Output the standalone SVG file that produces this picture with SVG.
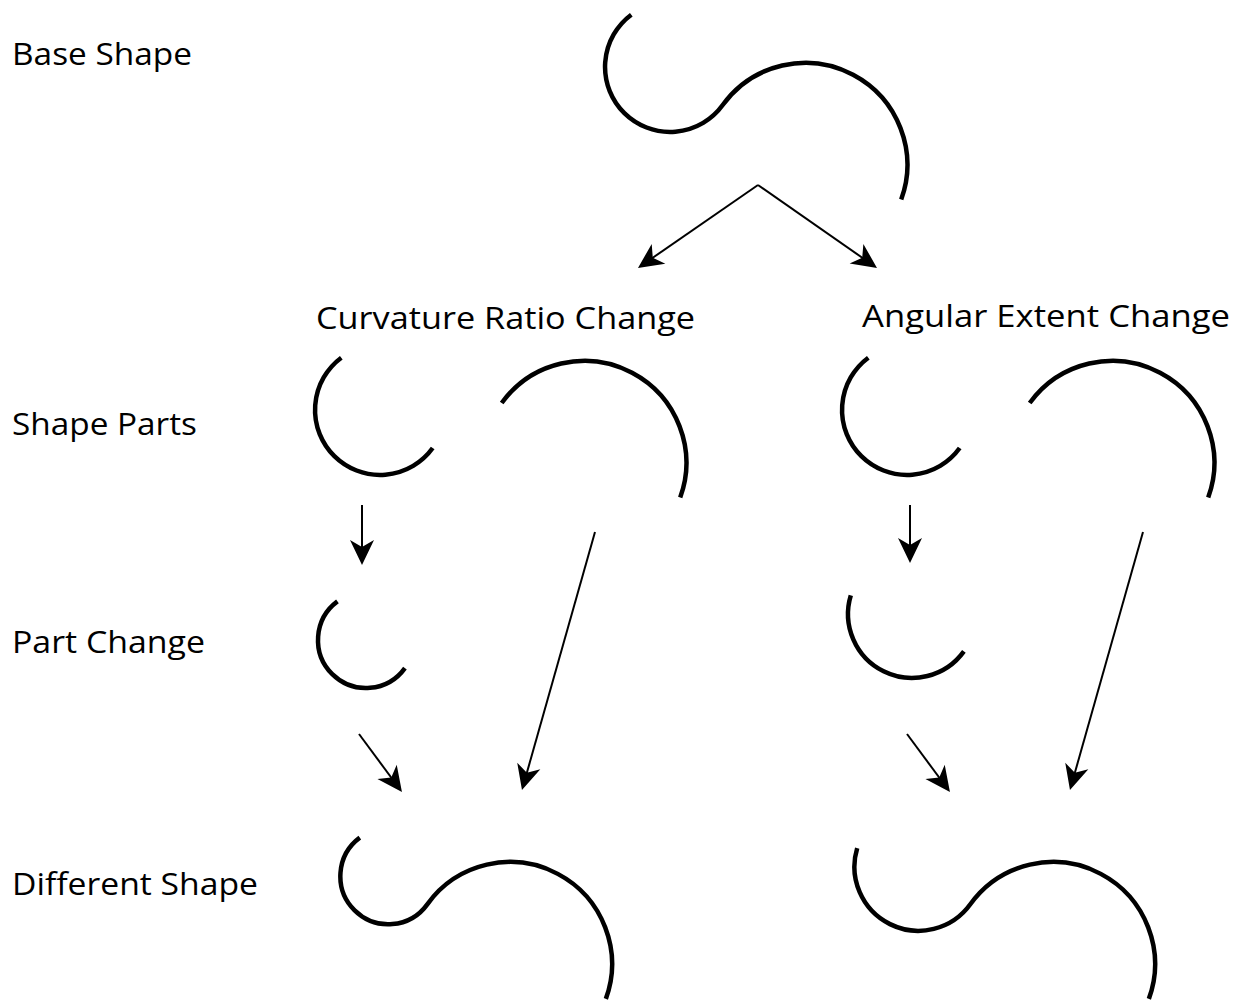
<svg xmlns="http://www.w3.org/2000/svg" width="1249" height="1003" viewBox="0 0 1249 1003">
<style>
  .lbl { font-family: "Open Sans", "Noto Sans", "Liberation Sans", sans-serif; font-size: 31px; fill: #000; }
  .curve { fill: none; stroke: #000; stroke-width: 4.5; stroke-linecap: butt; }
  .conn { fill: none; stroke: #000; stroke-width: 2; }
</style>
<defs>
  <marker id="ah" markerUnits="userSpaceOnUse" viewBox="-16 -13 27 26" markerWidth="27" markerHeight="26" refX="0" refY="0" orient="auto">
    <path d="M10,0 L-15,-12 L-8,0 L-15,12 Z" fill="#000"/>
  </marker>
</defs>
<rect width="1249" height="1003" fill="#fff"/>

<g id="labels">
  <text class="lbl" x="12" y="65" textLength="180" lengthAdjust="spacingAndGlyphs">Base Shape</text>
  <text class="lbl" x="12" y="435" textLength="185" lengthAdjust="spacingAndGlyphs">Shape Parts</text>
  <text class="lbl" x="12" y="653" textLength="193" lengthAdjust="spacingAndGlyphs">Part Change</text>
  <text class="lbl" x="12" y="895" textLength="246" lengthAdjust="spacingAndGlyphs">Different Shape</text>
  <text class="lbl" x="316" y="329" textLength="379" lengthAdjust="spacingAndGlyphs">Curvature Ratio Change</text>
  <text class="lbl" x="862" y="327" textLength="368" lengthAdjust="spacingAndGlyphs">Angular Extent Change</text>
</g>

<g id="base-shape">
  <path class="curve" d="M631.3,14.7 A65,65 0 1 0 722.7,105 A102,102 0 0 1 901.2,199.6"/>
</g>

<g id="crc-part-small">
  <path class="curve" d="M341.3,357.7 A65,65 0 1 0 432.7,448"/>
</g>
<g id="crc-part-large">
  <path class="curve" d="M501.7,403 A102,102 0 0 1 680.2,497.6"/>
</g>
<g id="aec-part-small">
  <path class="curve" d="M868.3,357.7 A65,65 0 1 0 959.7,448"/>
</g>
<g id="aec-part-large">
  <path class="curve" d="M1029.7,403 A102,102 0 0 1 1208.2,497.6"/>
</g>

<g id="crc-part-change">
  <path class="curve" d="M337.45,601.41 A48,48 0 1 0 404.93,668.08"/>
</g>
<g id="aec-part-change">
  <path class="curve" d="M850.8,595.3 A64,64 0 0 0 963.9,651.4"/>
</g>

<g id="crc-different-shape">
  <path class="curve" d="M359.8,837.66 A48,48 0 1 0 427.28,904.33 A102,102 0 0 1 605.85,998.89"/>
</g>
<g id="aec-different-shape">
  <path class="curve" d="M857.2,848.2 A64,64 0 0 0 970.3,904.3 A102,102 0 0 1 1148.85,998.89"/>
</g>

<g id="connectors">
  <line class="conn" x1="758" y1="185" x2="646.2" y2="262.3" marker-end="url(#ah)"/>
  <line class="conn" x1="758" y1="185" x2="868.8" y2="262.3" marker-end="url(#ah)"/>
  <line class="conn" x1="362" y1="505" x2="362" y2="555" marker-end="url(#ah)"/>
  <line class="conn" x1="910" y1="505" x2="910" y2="553" marker-end="url(#ah)"/>
  <line class="conn" x1="595" y1="532" x2="524.7" y2="780.4" marker-end="url(#ah)"/>
  <line class="conn" x1="1143" y1="532" x2="1072.7" y2="780.4" marker-end="url(#ah)"/>
  <line class="conn" x1="359" y1="734" x2="396" y2="784" marker-end="url(#ah)"/>
  <line class="conn" x1="907" y1="734" x2="944" y2="784" marker-end="url(#ah)"/>
</g>
</svg>
